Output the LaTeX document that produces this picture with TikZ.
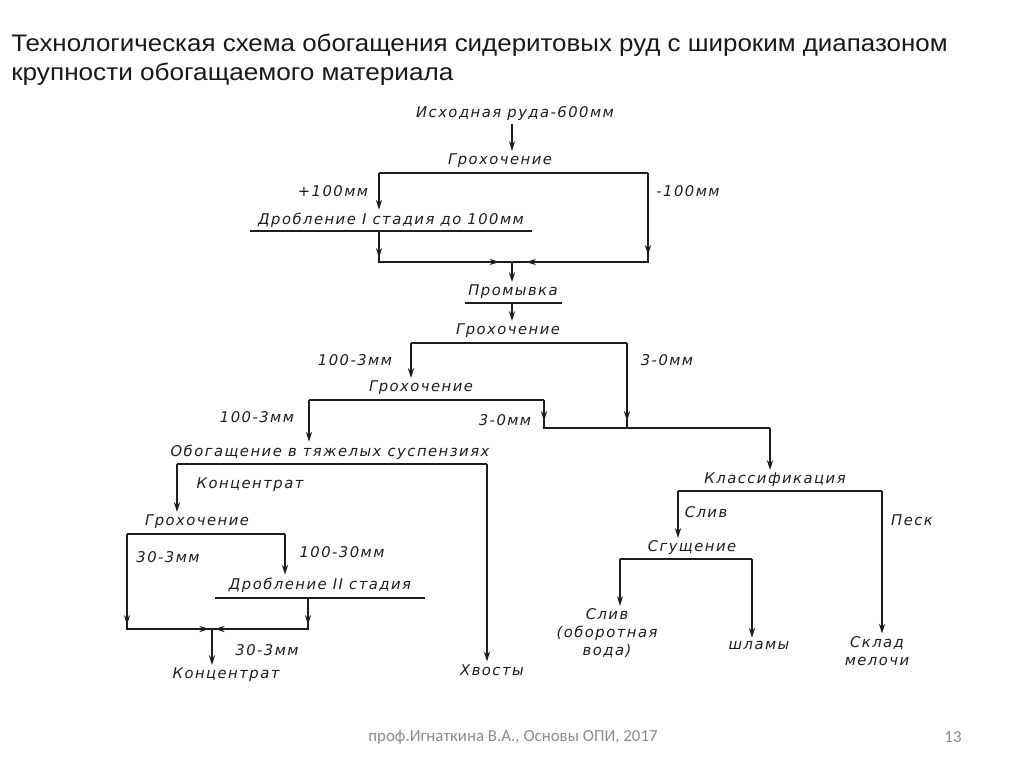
\documentclass[tikz,border=0pt]{standalone}
\usepackage{fontspec}
\setmainfont{Liberation Sans}
\newfontfamily\drawfont[LetterSpace=10]{DejaVu Sans}
\newfontfamily\footfont{Carlito}
\usetikzlibrary{arrows.meta,positioning}
\definecolor{ink}{HTML}{1E1E1E}
\definecolor{footgray}{HTML}{8C8C8C}

\begin{document}
\begin{tikzpicture}[
    x=0.025cm,
    y=-0.025cm,
    title/.style={
        font=\fontsize{17}{20}\selectfont,
        text=black!90,
        inner sep=0pt,
        anchor=base west
    },
    stage/.style={
        font=\drawfont\itshape\fontsize{10.5}{12.5}\selectfont,
        text=ink,
        inner sep=2pt,
        align=center
    },
    bar/.style={
        line width=2.1pt,
        draw=ink
    },
    flow/.style={
        line width=0.9pt,
        draw=ink
    },
    arrow/.style={
        flow,
        -{Stealth[length=7pt,width=4.4pt]}
    },
    foot/.style={
        font=\footfont\fontsize{12}{14}\selectfont,
        text=footgray,
        inner sep=0pt
    }
]
\useasboundingbox (0,0) rectangle (1024,767);
\fill[white] (0,0) rectangle (1024,767);

% Title
\node[title] (title1) at (11,52) {\resizebox{23.4cm}{\height}{Технологическая схема обогащения сидеритовых руд с широким диапазоном}};
\node[title] (title2) at (11,81) {\resizebox{11.05cm}{\height}{крупности обогащаемого материала}};

% Feed and first screening
\node[stage] (feed) at (515,114) {Исходная руда-600мм};
\node[stage] (scr1) at (500,161) {Грохочение};
\node[stage] (plus100) at (333,191) {+100мм};
\node[stage] (minus100) at (688,191) {-100мм};
\node[stage] (crush1) at (391,220) {Дробление I стадия до 100мм};
\coordinate (s1l) at (379,173);
\coordinate (s1r) at (648,173);
\coordinate (c1l) at (250,231);
\coordinate (c1r) at (532,231);
\coordinate (m1) at (512,262);
\draw[bar] (s1l) -- (s1r);
\draw[bar] (c1l) -- (c1r);

\draw[arrow] (feed.south -| m1) -- (scr1.north -| m1);
\draw[arrow] (s1l) -- (crush1.north -| s1l);
\draw[flow] (s1l |- c1l) -- (s1l |- m1) -- (m1);
\draw[arrow] (s1l |- c1l) -- ([yshift=3pt]s1l |- m1);
\draw[arrow] (s1l |- m1) -- ([xshift=-9pt]m1);
\draw[flow] (s1r) -- (s1r |- m1) -- (m1);
\draw[arrow] (s1r) -- ([yshift=5pt]s1r |- m1);
\draw[arrow] (s1r |- m1) -- ([xshift=10pt]m1);

% Washing
\node[stage] (wash) at (513,292) {Промывка};
\coordinate (wl) at (465,303);
\coordinate (wr) at (562,303);
\draw[bar] (wl) -- (wr);
\draw[arrow] (m1) -- (wash.north -| m1);

% Second and third screening
\node[stage] (scr2) at (508,331) {Грохочение};
\node[stage] (sz2a) at (355,360) {100-3мм};
\node[stage] (sz2b) at (667,360) {3-0мм};
\node[stage] (scr3) at (421,388) {Грохочение};
\node[stage] (sz3a) at (257,417) {100-3мм};
\node[stage] (sz3b) at (505,420) {3-0мм};
\coordinate (s2l) at (411,343);
\coordinate (s2r) at (627,343);
\coordinate (s3l) at (309,400);
\coordinate (s3r) at (544,400);
\coordinate (m2) at (627,428);
\coordinate (fine) at (770,428);
\draw[bar] (s2l) -- (s2r);
\draw[bar] (s3l) -- (s3r);

\draw[arrow] (m1 |- wl) -- (scr2.north -| m1);
\draw[arrow] (s2l) -- (scr3.north -| s2l);
\draw[flow] (s3r) -- (s3r |- m2) -- (fine);
\draw[arrow] (s3r) -- ([yshift=5pt]s3r |- m2);
\draw[flow] (s2r) -- (m2);
\draw[arrow] (s2r) -- ([yshift=5pt]m2);

% Heavy media separation
\node[stage] (dms) at (330,452) {Обогащение в тяжелых суспензиях};
\node[stage] (dmsconc) at (250,485) {Концентрат};
\node[stage] (tails) at (492,670) {Хвосты};
\coordinate (d1l) at (177,464);
\coordinate (d1r) at (487,464);
\draw[bar] (d1l) -- (d1r);
\draw[arrow] (s3l) -- (dms.north -| s3l);
\draw[arrow] (d1r) -- (tails.north -| d1r);

% Concentrate screening and second crushing
\node[stage] (scr4) at (197,522) {Грохочение};
\node[stage] (sz4a) at (168,557) {30-3мм};
\node[stage] (sz4b) at (342,552) {100-30мм};
\node[stage] (crush2) at (320,585) {Дробление II стадия};
\node[stage] (sz4c) at (267,650) {30-3мм};
\node[stage] (conc) at (226,675) {Концентрат};
\coordinate (s4l) at (127,534);
\coordinate (s4r) at (285,534);
\coordinate (c2l) at (215,598);
\coordinate (c2r) at (425,598);
\coordinate (c2out) at (308,598);
\coordinate (m3) at (212,629);
\draw[bar] (s4l) -- (s4r);
\draw[bar] (c2l) -- (c2r);

\draw[arrow] (d1l) -- (scr4.north -| d1l);
\draw[arrow] (s4r) -- (crush2.north -| s4r);
\draw[flow] (s4l) -- (s4l |- m3) -- (m3);
\draw[arrow] (s4l) -- ([yshift=3pt]s4l |- m3);
\draw[arrow] (s4l |- m3) -- ([xshift=-2pt]m3);
\draw[flow] (c2out) -- (c2out |- m3) -- (m3);
\draw[arrow] (c2out) -- ([yshift=3pt]c2out |- m3);
\draw[arrow] (c2out |- m3) -- ([xshift=2pt]m3);
\draw[arrow] (m3) -- (conc.north -| m3);

% Classification and thickening
\node[stage] (class) at (775,480) {Классификация};
\node[stage] (ovf1) at (706,512) {Слив};
\node[stage] (sand) at (912,520) {Песк};
\node[stage] (thick) at (692,548) {Сгущение};
\node[stage] (water) at (607,633) {Слив\\(оборотная\\вода)};
\node[stage] (slimes) at (759,645) {шламы};
\node[stage] (fines) at (877,651) {Склад\\мелочи};
\coordinate (k1l) at (678,491);
\coordinate (k1r) at (882,491);
\coordinate (t1l) at (620,559);
\coordinate (t1r) at (752,559);
\draw[bar] (k1l) -- (k1r);
\draw[bar] (t1l) -- (t1r);

\draw[arrow] (fine) -- (class.north -| fine);
\draw[arrow] (k1l) -- (thick.north -| k1l);
\draw[arrow] (k1r) -- (fines.north -| k1r);
\draw[arrow] (t1l) -- (water.north -| t1l);
\draw[arrow] (t1r) -- (slimes.north -| t1r);

% Footer
\node[foot] (credit) at (513,737) {проф.Игнаткина В.А., Основы ОПИ, 2017};
\node[foot] (page) at (953,737) {13};

\end{tikzpicture}
\end{document}
